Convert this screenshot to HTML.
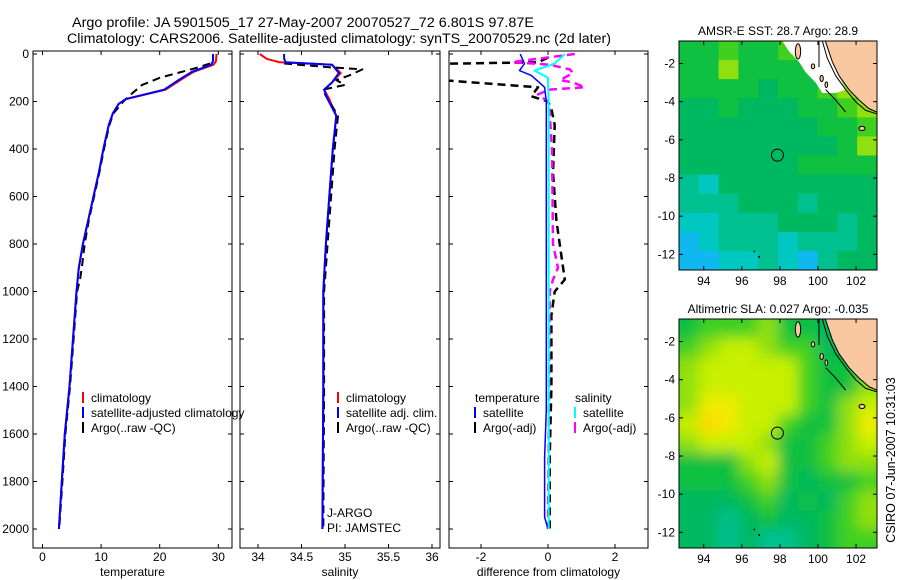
<!DOCTYPE html>
<html><head><meta charset="utf-8"><style>
body{margin:0;background:#fff}
svg{display:block;font-family:"Liberation Sans",sans-serif}
</style></head><body>
<svg id="fig" width="900" height="580" viewBox="0 0 900 580" xmlns="http://www.w3.org/2000/svg">
<text x="72" y="27" font-size="13.5" textLength="462" lengthAdjust="spacingAndGlyphs">Argo profile: JA 5901505_17 27-May-2007 20070527_72 6.801S 97.87E</text>
<text x="67" y="43" font-size="13.5" textLength="544" lengthAdjust="spacingAndGlyphs">Climatology: CARS2006. Satellite-adjusted climatology: synTS_20070529.nc (2d later)</text>
<g id="g"></g>
<text transform="translate(895,460) rotate(-90)" text-anchor="middle" font-size="12.5">CSIRO 07-Jun-2007 10:31:03</text>
</svg>
<script>
// ---- profile data ----
const tDepth = [0,30,45,75,110,150,190,210,250,300,400,500,600,700,800,900,1000,1200,1400,1600,1800,2000];
const tClim  = [29.7,29.6,29.2,25.8,23.5,21,14.2,13,12,11.3,10.4,9.6,8.7,7.8,6.9,6.2,5.8,5.2,4.6,3.8,3.3,2.8];
const tSat   = [29.1,29.1,28.8,25.5,23.2,20.8,14.2,13,12,11.3,10.4,9.6,8.7,7.8,6.9,6.2,5.8,5.2,4.6,3.8,3.3,2.8];
const tArgoDepth = [40,60,100,130,180,200,250,300,400,500,600,700,800,900,950,1000,1200,1400,1600,1800,2000];
const tArgo  = [28.6,26,20,17,14.6,13.8,12.1,11.4,10.5,9.7,8.8,7.9,7.2,6.7,6.4,5.9,5.3,4.7,3.9,3.4,2.85];
const sDepth = [0,20,35,45,80,120,150,190,260,400,600,800,1000,1400,2000];
const sClim  = [34.02,34.1,34.25,34.85,34.95,34.85,34.76,34.82,34.9,34.86,34.82,34.78,34.75,34.75,34.74];
const sSat   = [34.3,34.3,34.32,34.85,34.93,34.85,34.76,34.8,34.9,34.86,34.82,34.78,34.75,34.75,34.74];
const sArgoDepth = [40,55,65,90,110,130,150,170,260,400,600,800,900,1000,1400,2000];
const sArgo  = [34.3,34.8,35.2,35.05,34.9,35.0,34.75,34.77,34.92,34.88,34.84,34.8,34.78,34.76,34.76,34.75];
const dtSatDepth = [0,40,70,90,115,140,200,600,1000,1500,1700,1950,2000];
const dtSat = [-0.83,-0.7,-0.85,-0.5,-0.3,-0.1,-0.05,-0.05,-0.05,-0.05,-0.1,-0.1,0];
const dsSatDepth = [0,40,70,100,120,200,600,1000,1500,2000];
const dsSat = [0.5,0.2,-0.4,0,0,0.02,0.02,0.02,0.02,0.02];
const dtArgoDepth = [15,35,42,110,113,140,178,200,230,300,500,700,800,900,950,1000,1100,1400,1700,2000];
const dtArgo = [0,-0.3,-3.6,-3.6,-2.9,-0.3,-0.5,0,0.1,0.2,0.15,0.25,0.35,0.45,0.5,0.2,0.1,0.1,0.05,0.05];
const dsArgoDepth = [0,34,45,65,80,110,120,140,150,170,200,250,400,800,900,950,1000,2000];
const dsArgo = [0.8,-1.07,0.05,0.65,0.75,0.36,0.75,1.1,0.05,-0.3,0,0.05,0.12,0.15,0.3,0.15,0.05,0];
const depthTicks = [0,200,400,600,800,1000,1200,1400,1600,1800,2000];
const tTicks = [0,10,20,30];
const sTicks = [34,34.5,35,35.5,36];
const sTickLabels = ["34","34.5","35","35.5","36"];
const dTicks = [-2,0,2];

// ---- map data (colour index grids, rows north->south) ----
const sstGrid = [
[5,5,6,5,5,6,5,5,5,5],
[5,5,7,5,5,5,5,5,5,5],
[5,5,5,5,4,5,5,6,7,7],
[4,4,5,4,4,4,5,5,6,7],
[4,4,4,4,4,4,4,5,5,6],
[4,4,4,4,4,4,4,4,5,7],
[4,4,4,4,4,4,5,5,5,5],
[3,2,4,4,4,4,4,4,4,4],
[3,3,3,4,4,4,3,4,4,4],
[2,2,3,3,3,4,4,4,3,4],
[1,2,3,3,3,2,3,3,3,4],
[1,1,2,2,3,2,1,3,4,4]];
const slaGrid = [
[5,6,6,6,7,5,5,4,5,5],
[6,7,8,8,7,6,6,4,5,6],
[7,8,8,8,8,8,6,5,5,6],
[7,8,8,8,8,8,6,5,5,7],
[7,9,9,8,8,8,6,5,7,8],
[8,10,9,8,8,6,5,5,7,9],
[7,8,8,8,7,5,5,6,7,8],
[5,5,5,7,8,5,5,6,7,7],
[5,5,5,6,7,5,4,5,5,6],
[4,4,4,5,6,4,5,4,6,7],
[4,4,3,4,5,4,4,5,6,7],
[4,4,3,4,3,3,4,5,6,6]];
const lonTicks = [94,96,98,100,102];
const latTicks = [-2,-4,-6,-8,-10,-12];
const argoLon = 97.87, argoLat = -6.801;

const palette = ["#1a7fff","#10b8f0","#00c8c0","#00c090","#00b860","#10c040","#40d020","#90e010","#c8f000","#f0ec00","#ffd800"];
const NS="http://www.w3.org/2000/svg";
const G=document.getElementById('g');
function mk(tag,attrs,parent){const e=document.createElementNS(NS,tag);for(const k in attrs)e.setAttribute(k,attrs[k]);(parent||G).appendChild(e);return e;}

const yTop=51,yBot=548;
const yD = d => 54 + d*0.2375;
const xT = t => 42.5 + t*5.86;
const xS = s => 258 + (s-34)*87;
const xDf = v => 548 + v*33.5;

function panel(name,x0,x1,ticks,labels,xf,xlabel,showDepth){
  const grp=mk('g',{});
  
  
  const clip=mk('clipPath',{id:'c'+name},grp);
  mk('rect',{x:x0,y:yTop,width:x1-x0,height:yBot-yTop},clip);
  const fr=mk('rect',{x:x0,y:yTop,width:x1-x0,height:yBot-yTop,fill:'none',stroke:'#000','stroke-width':1},grp);
  
  
  ticks.forEach((t,i)=>{const x=xf(t);
    mk('line',{x1:x,x2:x,y1:yBot,y2:yBot-4,stroke:'#000'},grp);
    mk('line',{x1:x,x2:x,y1:yTop,y2:yTop+4,stroke:'#000'},grp);
    const tx=mk('text',{x:x,y:yBot+13,'text-anchor':'middle','font-size':12},grp);tx.textContent=labels[i];
    
    
  });
  depthTicks.forEach(d=>{const y=yD(d);
    mk('line',{x1:x0,x2:x0+4,y1:y,y2:y,stroke:'#000'},grp);
    mk('line',{x1:x1,x2:x1-4,y1:y,y2:y,stroke:'#000'},grp);
    if(showDepth){const tx=mk('text',{x:x0-4,y:y+4,'text-anchor':'end','font-size':12},grp);tx.textContent=d;
      
      }
  });
  const xl=mk('text',{x:(x0+x1)/2,y:yBot+28,'text-anchor':'middle','font-size':12},grp);xl.textContent=xlabel;
  
  
  const lg=mk('g',{'clip-path':'url(#c'+name+')'},grp);
  return lg;
}
function line(parent,depths,vals,xf,color,dash,w,nm){
  const pts=depths.map((d,i)=>xf(vals[i]).toFixed(1)+','+yD(d).toFixed(1)).join(' ');
  const p=mk('polyline',{points:pts,fill:'none',stroke:color,'stroke-width':w,'stroke-dasharray':dash||'none','stroke-linejoin':'round'},parent);
  
  
}
function legend(items,x,y){
  items.forEach((it,i)=>{const yy=y+i*15;
    if(it.c){const m=mk('line',{x1:x,x2:x,y1:yy-10,y2:yy+1,stroke:it.c,'stroke-width':2});
      
      }
    const t=mk('text',{x:x+(it.c?8:0),y:yy,'font-size':12});t.textContent=it.t;
    
    
  });
}

const p1=panel('temperature-panel',33,232,tTicks,tTicks.map(String),xT,'temperature',true);
line(p1,tDepth,tClim,xT,'#f00',null,2,'temperature-climatology-line');
line(p1,tArgoDepth,tArgo,xT,'#000','8 5',2,'temperature-argo-line');
line(p1,tDepth,tSat,xT,'#00f',null,2,'temperature-satellite-line');
legend([{c:'#f00',t:'climatology'},{c:'#00f',t:'satellite-adjusted climatology'},{c:'#000',t:'Argo(..raw -QC)'}],83,402);

const p2=panel('salinity-panel',240,440,sTicks,sTickLabels,xS,'salinity',false);
line(p2,sDepth,sClim,xS,'#f00',null,2,'salinity-climatology-line');
line(p2,sArgoDepth,sArgo,xS,'#000','8 5',2,'salinity-argo-line');
line(p2,sDepth,sSat,xS,'#00f',null,2,'salinity-satellite-line');
legend([{c:'#f00',t:'climatology'},{c:'#00f',t:'satellite adj. clim.'},{c:'#000',t:'Argo(..raw -QC)'}],338,402);
legend([{t:'J-ARGO'},{t:'PI: JAMSTEC'}],327,517);

const p3=panel('difference-panel',449,648,dTicks,dTicks.map(String),xDf,'difference from climatology',false);
line(p3,dtArgoDepth,dtArgo,xDf,'#000','8 5',2.5,'temp-argo-diff-line');
line(p3,dsArgoDepth,dsArgo,xDf,'#f0f','8 5',2.5,'sal-argo-diff-line');
line(p3,dtSatDepth,dtSat,xDf,'#00f',null,1.5,'temp-satellite-diff-line');
line(p3,dsSatDepth,dsSat,xDf,'#0ff',null,2,'sal-satellite-diff-line');
legend([{t:'temperature'},{c:'#00f',t:'satellite'},{c:'#000',t:'Argo(-adj)'}],475,402);
legend([{t:'salinity'},{c:'#0ff',t:'satellite'},{c:'#f0f',t:'Argo(-adj)'}],575,402);

// ---- maps ----
const LON0=92.7,LON1=103.1,LAT0=-0.82,LAT1=-12.82;
function map(name,title,grid,y0,blur){
  const X0=679,W=198,H=229;
  const mx=lon=>X0+(lon-LON0)/(LON1-LON0)*W;
  const my=lat=>y0+(LAT0-lat)/(LAT0-LAT1)*H;
  const grp=mk('g',{});
  
  
  const t=mk('text',{x:X0+W/2,y:y0-6,'text-anchor':'middle','font-size':12},grp);t.textContent=title;
  
  
  const clip=mk('clipPath',{id:'c'+name},grp);
  mk('rect',{x:X0,y:y0,width:W,height:H},clip);
  const cg=mk('g',{'clip-path':'url(#c'+name+')'},grp);
  let hg=cg;
  if(blur){const f=mk('filter',{id:'f'+name,x:'-10%',y:'-10%',width:'120%',height:'120%'},grp);
    mk('feGaussianBlur',{stdDeviation:7},f);
    mk('rect',{x:X0,y:y0,width:W,height:H,fill:palette[5]},cg);
    hg=mk('g',{filter:'url(#f'+name+')'},cg);}
  const rows=grid.length,cols=grid[0].length,cw=W/cols,ch=H/rows;
  grid.forEach((row,r)=>row.forEach((v,c)=>{
    const ex=blur&&(c==0||c==cols-1)?10:0, ey=blur&&(r==0||r==rows-1)?10:0;
    const cell=mk('rect',{x:X0+c*cw-(c==0?ex:0),y:y0+r*ch-(r==0?ey:0),width:cw+ex+0.6,height:ch+ey+0.6,fill:palette[v]},hg);
    
    
  }));
  const geo=mk('g',{transform:`translate(${X0},${y0}) scale(${W/594},${H/660})`},cg);
  if(!blur){const nd=mk('polygon',{points:'310,0 439,0 460,60 480,100 500,140 470,150 430,150 410,120 380,90 360,60 330,30',fill:'#fff'},geo);
    
    }
  const land=mk('polygon',{points:'439,0 594,0 594,205 570,195 540,170 510,140 480,100 460,60',fill:'#f9c8a0',stroke:'#000','stroke-width':3},geo);
  
  
  mk('polyline',{points:'430,0 445,50 470,100 500,140 530,175 560,200 594,210',fill:'none',stroke:'#000','stroke-width':3},geo);
  mk('line',{x1:420,y1:0,x2:420,y2:75,stroke:'#000','stroke-width':3},geo);
  [[357,30,8,22],[402,73,5,7],[428,108,5,9],[442,126,4,8],[549,252,9,6]].forEach(e=>{
    const il=mk('ellipse',{cx:e[0],cy:e[1],rx:e[2],ry:e[3],fill:'#f9c8a0',stroke:'#000','stroke-width':3},geo);
    
    
  });
  mk('polyline',{points:'440,140 470,170 500,205',fill:'none',stroke:'#000','stroke-width':3},geo);
  mk('rect',{x:224,y:604,width:4,height:5,fill:'#000'},geo);
  mk('rect',{x:238,y:620,width:5,height:5,fill:'#000'},geo);
  const circ=mk('ellipse',{cx:mx(argoLon),cy:my(argoLat),rx:6,ry:6,fill:'none',stroke:'#000','stroke-width':1},grp);
  
  
  const fr=mk('rect',{x:X0,y:y0,width:W,height:H,fill:'none',stroke:'#000'},grp);
  
  
  lonTicks.forEach(l=>{const x=mx(l);
    mk('line',{x1:x,x2:x,y1:y0+H,y2:y0+H-4,stroke:'#000'},grp);
    mk('line',{x1:x,x2:x,y1:y0,y2:y0+4,stroke:'#000'},grp);
    const tx=mk('text',{x:x,y:y0+H+15,'text-anchor':'middle','font-size':12},grp);tx.textContent=l;
    
    });
  latTicks.forEach(l=>{const y=my(l);
    mk('line',{x1:X0,x2:X0+4,y1:y,y2:y,stroke:'#000'},grp);
    mk('line',{x1:X0+W,x2:X0+W-4,y1:y,y2:y,stroke:'#000'},grp);
    const tx=mk('text',{x:X0-4,y:y+4,'text-anchor':'end','font-size':12},grp);tx.textContent=l;
    
    });
}
map('sst-map','AMSR-E SST: 28.7 Argo: 28.9',sstGrid,41,false);
map('sla-map','Altimetric SLA: 0.027 Argo: -0.035',slaGrid,319,true);
</script>
</body></html>
